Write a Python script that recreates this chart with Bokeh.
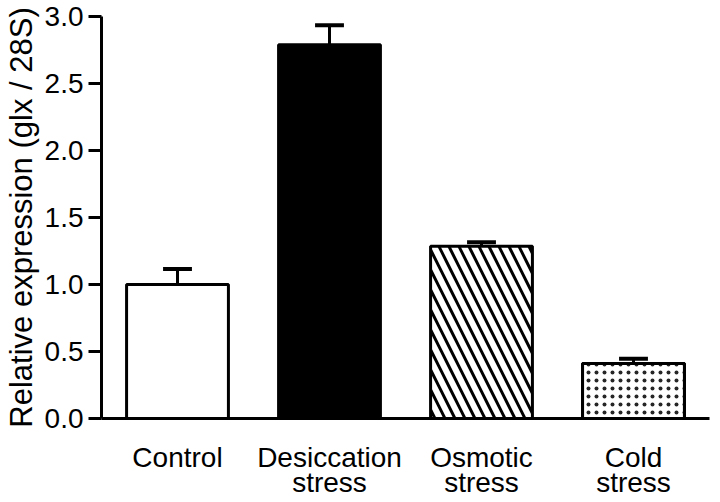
from bokeh.plotting import figure
from bokeh.models import (FactorRange, Range1d, SingleIntervalTicker, NumeralTickFormatter,
                          ColumnDataSource, CategoricalAxis, CustomJSTickFormatter)
from bokeh.embed import file_html
from bokeh.resources import INLINE

categories = ["Control", "Desiccation", "Osmotic", "Cold"]
label_line1 = ["Control", "Desiccation", "Osmotic", "Cold"]
label_line2 = ["", "stress", "stress", "stress"]
values = [1.00, 2.79, 1.285, 0.41]
errors = [0.115, 0.145, 0.03, 0.035]
fills = ["white", "black", "white", "white"]
hatches = [" ", " ", "left_diagonal_line", " "]

tops = [v + e for v, e in zip(values, errors)]
src = ColumnDataSource(dict(x=categories, top=values, fill=fills, hatch=hatches, etop=tops))

FONT = "Liberation Sans"

p = figure(width=712, height=500, output_backend="svg", toolbar_location=None,
           x_range=FactorRange(factors=categories, range_padding=0),
           y_range=Range1d(0, 3.0),
           min_border_left=92, min_border_right=3, min_border_top=16, min_border_bottom=79)

p.vbar(x="x", top="top", width=0.67, source=src, fill_color="fill", line_color="black",
       line_width=3, hatch_pattern="hatch", hatch_color="black", hatch_weight=3, hatch_scale=20)

# cold bar with fine stipple
cold = ColumnDataSource(dict(x=[categories[3]], top=[values[3]]))
p.vbar(x="x", top="top", width=0.67, source=cold, fill_color="white", line_color="black",
       line_width=3, hatch_pattern="dot", hatch_color="black", hatch_weight=1, hatch_scale=8,
       hatch_alpha=0.85)

p.segment(x0="x", y0="top", x1="x", y1="etop", source=src, line_color="black", line_width=3)
p.rect(x="x", y="etop", width=0.19, height=4, height_units="screen", source=src,
       fill_color="black", line_color=None)

p.xgrid.visible = False
p.ygrid.visible = False
p.outline_line_color = None

ya = p.yaxis[0]
ya.ticker = SingleIntervalTicker(interval=0.5)
ya.formatter = NumeralTickFormatter(format="0.0")
ya.axis_line_width = 3
ya.major_tick_line_width = 3
ya.major_tick_out = 13
ya.major_tick_in = 0
ya.minor_tick_line_color = None
ya.major_label_text_font = FONT
ya.major_label_text_font_size = "28px"
ya.major_label_text_color = "black"
ya.major_label_standoff = 5
ya.axis_label = "Relative expression (glx / 28S)"
ya.axis_label_text_font = FONT
ya.axis_label_text_font_size = "31px"
ya.axis_label_text_font_style = "normal"
ya.axis_label_text_color = "black"
ya.axis_label_standoff = 3

fmt_code = "const i = cats.indexOf(tick); return i >= 0 ? labels[i] : '';"

xa = p.xaxis[0]
xa.axis_line_width = 3
xa.major_tick_out = 0
xa.major_tick_in = 0
xa.minor_tick_line_color = None
xa.formatter = CustomJSTickFormatter(args=dict(cats=categories, labels=label_line1), code=fmt_code)
xa.major_label_text_font = FONT
xa.major_label_text_font_size = "28px"
xa.major_label_text_color = "black"
xa.major_label_standoff = 23

xa2 = CategoricalAxis()
xa2.axis_line_color = None
xa2.major_tick_line_color = None
xa2.major_tick_out = 0
xa2.major_tick_in = 0
xa2.minor_tick_line_color = None
xa2.formatter = CustomJSTickFormatter(args=dict(cats=categories, labels=label_line2), code=fmt_code)
xa2.major_label_text_font = FONT
xa2.major_label_text_font_size = "28px"
xa2.major_label_text_color = "black"
xa2.major_label_standoff = -9
p.add_layout(xa2, "below")

open("out.html", "w").write(file_html(p, INLINE))
